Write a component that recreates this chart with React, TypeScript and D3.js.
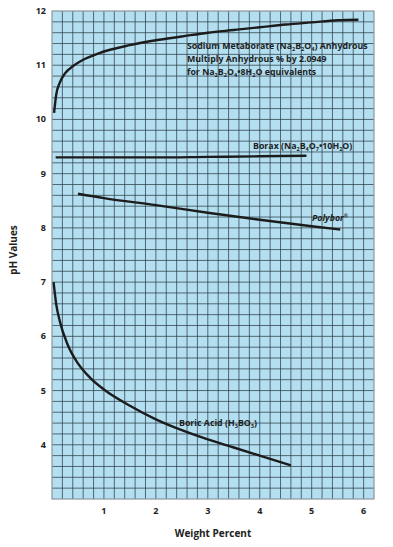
import React, { useEffect, useRef } from "react";
import * as d3 from "d3";

// pH vs weight percent
const metaborate: [number, number][] = [
  [0.04, 10.12], [0.08, 10.45], [0.15, 10.68], [0.25, 10.85], [0.4, 10.98],
  [0.6, 11.1], [0.9, 11.22], [1.5, 11.37], [2, 11.46], [2.5, 11.53],
  [3, 11.6], [3.5, 11.65], [4, 11.7], [4.5, 11.75], [5, 11.79], [5.5, 11.83], [5.9, 11.84],
];
const borax: [number, number][] = [
  [0.07, 9.3], [1, 9.3], [2, 9.3], [3, 9.31], [4, 9.32], [4.9, 9.33],
];
const polybor: [number, number][] = [
  [0.5, 8.63], [1, 8.55], [2, 8.42], [3, 8.28], [4, 8.15], [5, 8.03], [5.55, 7.97],
];
const boricAcid: [number, number][] = [
  [0.03, 7.0], [0.08, 6.6], [0.15, 6.28], [0.3, 5.85], [0.5, 5.5], [0.75, 5.22],
  [1, 5.02], [1.5, 4.72], [2, 4.47], [2.5, 4.27], [3, 4.1], [3.5, 3.95], [4, 3.8], [4.6, 3.62],
];

const xTicks = [1, 2, 3, 4, 5, 6];
const yTicks = [4, 5, 6, 7, 8, 9, 10, 11, 12];

const App = () => {
  const ref = useRef<SVGSVGElement>(null);

  useEffect(() => {
    const svg = d3.select(ref.current);
    svg.selectAll("*").remove();

    const left = 52, right = 374, top = 11, bottom = 499;
    const x = d3.scaleLinear().domain([0, 6.2]).range([left, right]);
    const y = d3.scaleLinear().domain([3, 12]).range([bottom, top]);
    const font = "'Open Sans', 'Noto Sans', sans-serif";

    svg
      .append("rect")
      .attr("x", left)
      .attr("y", top)
      .attr("width", right - left)
      .attr("height", bottom - top)
      .attr("fill", "#b3dff1");

    const g = svg.append("g");
    d3.range(1, 31).forEach((i) => {
      g.append("line")
        .attr("x1", x(i * 0.2)).attr("x2", x(i * 0.2))
        .attr("y1", top).attr("y2", bottom)
        .attr("stroke", "#2c3a42").attr("stroke-width", 1).attr("opacity", 0.72);
    });
    d3.range(1, 45).forEach((i) => {
      g.append("line")
        .attr("x1", left).attr("x2", right)
        .attr("y1", y(3 + i * 0.2)).attr("y2", y(3 + i * 0.2))
        .attr("stroke", "#2c3a42").attr("stroke-width", 1).attr("opacity", 0.72);
    });
    svg
      .append("rect")
      .attr("x", left)
      .attr("y", top)
      .attr("width", right - left)
      .attr("height", bottom - top)
      .attr("fill", "none")
      .attr("stroke", "#8c979c")
      .attr("stroke-width", 1.2);

    const line = d3
      .line<[number, number]>()
      .x((d) => x(d[0]))
      .y((d) => y(d[1]))
      .curve(d3.curveMonotoneX);

    [metaborate, borax, polybor, boricAcid].forEach((s) => {
      svg
        .append("path")
        .attr("d", line(s))
        .attr("fill", "none")
        .attr("stroke", "#1c1c1c")
        .attr("stroke-width", 2.4);
    });

    // tick labels
    svg
      .selectAll(".xt")
      .data(xTicks)
      .enter()
      .append("text")
      .attr("x", (d) => x(d))
      .attr("y", 514)
      .attr("text-anchor", "middle")
      .attr("font-family", font)
      .attr("font-weight", "bold")
      .attr("font-size", 9)
      .attr("fill", "#222")
      .text((d) => d);

    svg
      .selectAll(".yt")
      .data(yTicks)
      .enter()
      .append("text")
      .attr("x", 46)
      .attr("y", (d) => y(d) + 3)
      .attr("text-anchor", "end")
      .attr("font-family", font)
      .attr("font-weight", "bold")
      .attr("font-size", 9)
      .attr("fill", "#222")
      .text((d) => d);

    svg
      .append("text")
      .attr("x", 213)
      .attr("y", 537)
      .attr("text-anchor", "middle")
      .attr("font-family", font)
      .attr("font-weight", "bold")
      .attr("font-size", 10)
      .attr("fill", "#222")
      .text("Weight Percent");

    svg
      .append("text")
      .attr("transform", "translate(17,250) rotate(-90)")
      .attr("text-anchor", "middle")
      .attr("font-family", font)
      .attr("font-weight", "bold")
      .attr("font-size", 10)
      .attr("fill", "#222")
      .text("pH Values");

    // labels with subscripts: parts are [text, isSub]
    const label = (px: number, py: number, parts: [string, boolean][], size = 8.8) => {
      const t = svg
        .append("text")
        .attr("x", px)
        .attr("y", py)
        .attr("font-family", font)
        .attr("font-weight", "bold")
        .attr("font-size", size)
        .attr("fill", "#1e1e1e");
      parts.forEach(([s, sub]) => {
        t.append("tspan")
          .attr("font-size", sub ? 5.6 : size)
          .attr("baseline-shift", sub ? "-25%" : "0%")
          .text(s);
      });
    };

    label(187, 49, [["Sodium Metaborate (Na", false], ["2", true], ["B", false], ["2", true], ["O", false], ["4", true], [") Anhydrous", false]]);
    label(187, 62, [["Multiply Anhydrous % by 2.0949", false]]);
    label(187, 75, [["for Na", false], ["2", true], ["B", false], ["2", true], ["O", false], ["4", true], ["\u20228H", false], ["2", true], ["O equivalents", false]]);
    label(253, 149, [["Borax (Na", false], ["2", true], ["B", false], ["4", true], ["O", false], ["7", true], ["\u202210H", false], ["2", true], ["O)", false]]);
    svg
      .append("text")
      .attr("x", 312)
      .attr("y", 221)
      .attr("font-family", font)
      .attr("font-weight", "bold")
      .attr("font-style", "italic")
      .attr("font-size", 8.8)
      .attr("fill", "#1e1e1e")
      .text("Polybor")
      .append("tspan")
      .attr("font-size", 5)
      .attr("baseline-shift", "60%")
      .text("\u00ae");
    label(179, 426, [["Boric Acid (H", false], ["3", true], ["BO", false], ["3", true], [")", false]]);
  }, []);

  return (
    <svg
      ref={ref}
      width={393}
      height={547}
      style={{ position: "absolute", left: 0, top: 0, background: "#fff" }}
    />
  );
};

export default App;
